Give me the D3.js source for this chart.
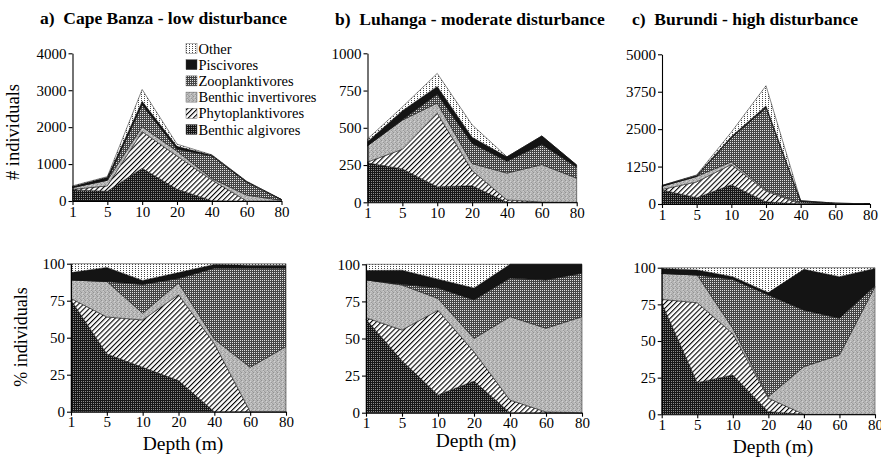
<!DOCTYPE html>
<html><head><meta charset="utf-8">
<script src="https://cdn.jsdelivr.net/npm/d3@7"></script>
<style>
body{margin:0;background:#fff}
svg text{font-family:"Liberation Serif","Times New Roman",serif;fill:#000}
</style></head><body>
<svg id="chart" width="881" height="457"></svg>
<script>
// ---------- DATA ----------
const depths = ["1","5","10","20","40","60","80"];
const groups = ["Benthic algivores","Phytoplanktivores","Benthic invertivores","Zooplanktivores","Piscivores","Other"];
const legendOrder = ["Other","Piscivores","Zooplanktivores","Benthic invertivores","Phytoplanktivores","Benthic algivores"];
const siteTitles = ["a)  Cape Banza - low disturbance","b)  Luhanga - moderate disturbance","c)  Burundi - high disturbance"];
const capeTicks = [0,1000,2000,3000,4000];
const luhangaTicks = [0,250,500,750,1000];
const burundiTicks = [0,1250,2500,3750,5000];
const percentTicks = [0,25,50,75,100];

// rows follow `groups` order, columns follow `depths`
const capeBanzaCounts = [
  [300,265,885,320,10,0,0],
  [15,145,995,900,560,0,0],
  [50,150,130,130,40,160,18],
  [0,5,590,50,610,350,21],
  [25,75,100,80,20,15,1],
  [20,20,320,60,10,10,1]
];
const capeBanzaPercent = [
  [75.5,39,30,21,0,0,0],
  [1,25,32,58,46,0,0],
  [12.5,24,4.5,8,3,30,44],
  [0,0,19.5,3,48,67,53],
  [5,9.5,2.7,4,2.5,2,2],
  [6,2.5,11.3,6,0.5,1,1]
];
const luhangaCounts = [
  [265,224,104,111,0,0,0],
  [5,132,494,102,16,2,0],
  [110,195,68,47,180,251,162],
  [0,3,59,135,80,135,73],
  [27,61,53,42,29,57,15],
  [18,25,87,83,0,0,0]
];
const luhangaPercent = [
  [63,35,12,21.3,0,0,0],
  [1,20.7,57,19.7,8.5,0.5,0],
  [25.5,30.3,8,9,56.2,56.4,64.7],
  [0,0.5,7,26,26,32.5,29.3],
  [6.3,9.5,6,8,9.3,10.6,6],
  [4.2,4,10,16,0,0,0]
];
const burundiCounts = [
  [471,210,643,71,0,0,0],
  [15,528,677,363,0,0,0],
  [110,184,86,40,36,12,4],
  [0,0,802,2741,42,8,0],
  [21,33,46,63,31,8,1],
  [3,15,146,672,1,2,0]
];
const burundiPercent = [
  [76,21.6,26.8,1.8,0,0,0],
  [2.4,54.5,28.2,9.2,0,0,0],
  [17.7,18.9,3.6,1,32.5,40.5,87],
  [0,0,33.4,69.4,38.5,25,0.5],
  [3.4,3.4,1.9,1.6,27.9,28.4,12],
  [0.5,1.6,6.1,17,1.1,6.1,0.5]
];

// ---------- LAYOUT ----------
const SERIF = "'Liberation Serif','Times New Roman',Times,serif";
const panels = [
  {title:siteTitles[0], counts:capeBanzaCounts, pct:capeBanzaPercent, ticks:capeTicks,
   tx:40, ty:24, top:{x0:72.5,x1:281.5,y0:201,y1:53.3}, bot:{x0:71,x1:286,y0:411.7,y1:263.7}, dx:183, dy:450},
  {title:siteTitles[1], counts:luhangaCounts, pct:luhangaPercent, ticks:luhangaTicks,
   tx:335, ty:25, top:{x0:367.5,x1:576.7,y0:202.3,y1:53.3}, bot:{x0:366,x1:582,y0:412.7,y1:264.3}, dx:476, dy:447},
  {title:siteTitles[2], counts:burundiCounts, pct:burundiPercent, ticks:burundiTicks,
   tx:632, ty:25, top:{x0:662,x1:870,y0:204,y1:54.3}, bot:{x0:661.7,x1:875,y0:414.3,y1:267.7}, dx:773, dy:453}
];

const svg = d3.select("#chart");
const defs = svg.append("defs");

function pat(id,w,h){ return defs.append("pattern").attr("id",id).attr("patternUnits","userSpaceOnUse").attr("width",w).attr("height",h); }
// Other: light stipple
let p = pat("pOther",3,2);
p.append("rect").attr("width",3).attr("height",2).attr("fill","#fff");
p.append("rect").attr("x",0).attr("y",0).attr("width",1).attr("height",1).attr("fill","#4a4a4a");
// Zooplanktivores: dark grid
p = pat("pZoo",2,2);
p.append("rect").attr("width",2).attr("height",2).attr("fill","#454545");
p.append("rect").attr("x",0).attr("y",0).attr("width",1).attr("height",1).attr("fill","#e0e0e0");
// Benthic invertivores: mottled light gray
p = pat("pInv",4,4);
p.append("rect").attr("width",4).attr("height",4).attr("fill","#b8b8b8");
[[1,0,"#929292"],[3,2,"#989898"],[0,3,"#9e9e9e"],[2,1,"#d2d2d2"],[0,1,"#a8a8a8"],[3,3,"#cccccc"]].forEach(d=>
  p.append("rect").attr("x",d[0]).attr("y",d[1]).attr("width",1).attr("height",1).attr("fill",d[2]));
// Phytoplanktivores: diagonal hatch
p = pat("pPhy",3.6,3.6).attr("patternTransform","rotate(45)");
p.append("rect").attr("width",3.6).attr("height",3.6).attr("fill","#fff");
p.append("rect").attr("x",0).attr("y",0).attr("width",1.1).attr("height",3.6).attr("fill","#000");
// Benthic algivores: black with light dot grid
p = pat("pAlg",2,2);
p.append("rect").attr("width",2).attr("height",2).attr("fill","#161616");
p.append("rect").attr("x",1).attr("y",1).attr("width",1).attr("height",1).attr("fill","#8a8a8a");

const fills = {
  "Benthic algivores":"url(#pAlg)",
  "Phytoplanktivores":"url(#pPhy)",
  "Benthic invertivores":"url(#pInv)",
  "Zooplanktivores":"url(#pZoo)",
  "Piscivores":"#141414",
  "Other":"url(#pOther)"
};

function table(mat){
  return depths.map((d,j)=>{ const o={depth:d}; groups.forEach((g,i)=>o[g]=mat[i][j]); return o; });
}

function drawStack(mat, box, yMax, ticks){
  const x = d3.scalePoint().domain(depths).range([box.x0, box.x1]).padding(0);
  const y = d3.scaleLinear().domain([0,yMax]).range([box.y0, box.y1]);
  const series = d3.stack().keys(groups)(table(mat));
  const area = d3.area().x(d=>x(d.data.depth)).y0(d=>y(d[0])).y1(d=>y(d[1]));
  const g = svg.append("g");
  g.selectAll("path.layer").data(series).join("path")
    .attr("class","layer")
    .attr("d",area)
    .attr("fill",d=>fills[d.key])
    .attr("stroke","#111").attr("stroke-width",0.5).attr("stroke-linejoin","round");
  const ya = svg.append("g").attr("transform",`translate(${box.x0},0)`)
    .call(d3.axisLeft(y).tickValues(ticks).tickFormat(d3.format("d")).tickSize(4).tickSizeOuter(0).tickPadding(2));
  const xa = svg.append("g").attr("transform",`translate(0,${box.y0})`)
    .call(d3.axisBottom(x).tickSize(4).tickSizeOuter(0).tickPadding(1));
  [ya,xa].forEach(a=>{
    a.attr("font-family",SERIF).attr("font-size",15);
    a.selectAll("text").attr("font-family",SERIF).attr("font-size",15).style("font-family",SERIF).style("font-size","15px").attr("fill","#000");
    a.selectAll("path,line").attr("stroke","#000").attr("stroke-width",1.1);
  });
}

panels.forEach(P=>{
  drawStack(P.counts, P.top, P.ticks[P.ticks.length-1], P.ticks);
  drawStack(P.pct, P.bot, 100, percentTicks);
  svg.append("text").attr("x",P.tx).attr("y",P.ty)
    .style("font-family",SERIF).style("font-size","17.5px").style("font-weight","bold").style("white-space","pre")
    .text(P.title);
  svg.append("text").attr("x",P.dx).attr("y",P.dy).attr("text-anchor","middle")
    .style("font-family",SERIF).style("font-size","19.5px").text("Depth (m)");
});

// y labels
svg.append("text").attr("transform","translate(19,132) rotate(-90)").attr("text-anchor","middle")
  .style("font-family",SERIF).style("font-size","18.5px").text("# individuals");
svg.append("text").attr("transform","translate(27,337) rotate(-90)").attr("text-anchor","middle")
  .style("font-family",SERIF).style("font-size","18px").text("% individuals");

// legend
const lg = svg.append("g");
legendOrder.forEach((k,i)=>{
  const cy = 48.5 + i*16.2;
  lg.append("rect").attr("x",186).attr("y",cy-5).attr("width",11).attr("height",10)
    .attr("fill",fills[k]).attr("stroke","#444").attr("stroke-width",0.4);
  lg.append("text").attr("x",198.5).attr("y",cy+5)
    .style("font-family",SERIF).style("font-size","14.5px").text(k);
});
</script>
</body></html>
